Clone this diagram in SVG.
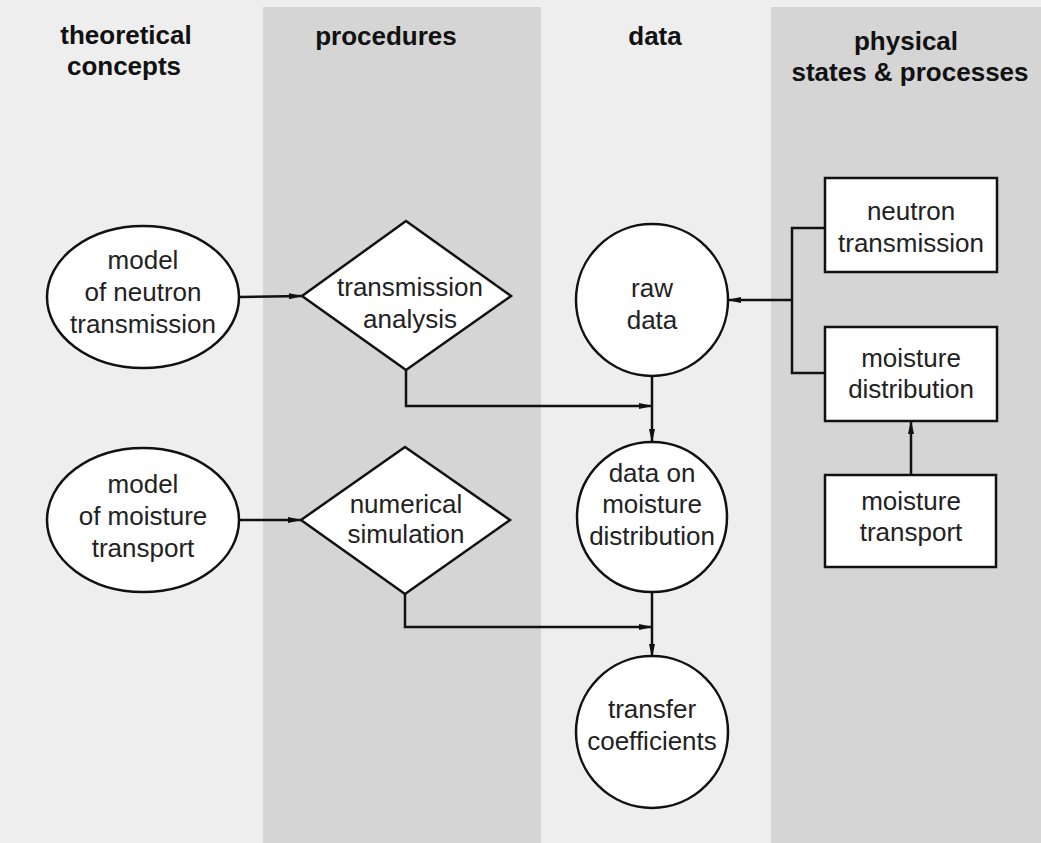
<svg xmlns="http://www.w3.org/2000/svg" width="1041" height="843" viewBox="0 0 1041 843">
<style>
.hdr{font-family:"Liberation Sans",Arial,sans-serif;font-weight:bold;font-size:26px;fill:#111;text-anchor:middle}
.lbl{font-family:"Liberation Sans",Arial,sans-serif;font-size:26px;fill:#222;text-anchor:middle}
.shape{fill:#fff;stroke:#111;stroke-width:2.5}
.conn{fill:none;stroke:#111;stroke-width:2.5}
</style>
<defs>
<marker id="arr" markerWidth="14" markerHeight="8" refX="13" refY="4" orient="auto" markerUnits="userSpaceOnUse">
<path d="M0,1 L14,4 L0,7 z" fill="#111"/>
</marker>
</defs>
<rect x="0" y="0" width="1041" height="843" fill="#eeeeee"/>
<rect x="263" y="7" width="278" height="836" fill="#d5d5d5"/>
<rect x="771" y="7" width="270" height="836" fill="#d5d5d5"/>
<g id="headers">
<text class="hdr" x="126" y="44">theoretical</text>
<text class="hdr" x="124" y="75">concepts</text>
<text class="hdr" x="386" y="45">procedures</text>
<text class="hdr" x="655" y="45">data</text>
<text class="hdr" x="906" y="50">physical</text>
<text class="hdr" x="910" y="81">states &amp; processes</text>
</g>
<g id="connectors">
<line class="conn" x1="240" y1="297" x2="302" y2="296" marker-end="url(#arr)"/>
<line class="conn" x1="239" y1="520" x2="301" y2="520" marker-end="url(#arr)"/>
<polyline class="conn" points="406,370 406,406 652,406" marker-end="url(#arr)"/>
<polyline class="conn" points="405,594 405,627 652,627" marker-end="url(#arr)"/>
<line class="conn" x1="652" y1="376" x2="652" y2="442" marker-end="url(#arr)"/>
<line class="conn" x1="652" y1="592" x2="652" y2="657" marker-end="url(#arr)"/>
<polyline class="conn" points="825,228 792,228 792,373 825,373"/>
<line class="conn" x1="792" y1="300" x2="728" y2="300" marker-end="url(#arr)"/>
<line class="conn" x1="911" y1="475" x2="911" y2="421" marker-end="url(#arr)"/>
</g>
<g id="model-neutron">
<ellipse class="shape" cx="143" cy="297" rx="96" ry="71"/>
<text class="lbl" x="143" y="269">model</text>
<text class="lbl" x="143" y="301">of neutron</text>
<text class="lbl" x="143" y="333">transmission</text>
</g>
<g id="model-moisture">
<ellipse class="shape" cx="143" cy="520" rx="96" ry="72"/>
<text class="lbl" x="143" y="493">model</text>
<text class="lbl" x="143" y="525">of moisture</text>
<text class="lbl" x="143" y="557">transport</text>
</g>
<g id="transmission-analysis">
<polygon class="shape" points="406,221 511,296 406,370 302,296"/>
<text class="lbl" x="410" y="296">transmission</text>
<text class="lbl" x="410" y="328">analysis</text>
</g>
<g id="numerical-simulation">
<polygon class="shape" points="405,447 510,520 405,594 301,520"/>
<text class="lbl" x="406" y="513">numerical</text>
<text class="lbl" x="406" y="543">simulation</text>
</g>
<g id="raw-data">
<circle class="shape" cx="652" cy="300" r="76"/>
<text class="lbl" x="652" y="297">raw</text>
<text class="lbl" x="652" y="329">data</text>
</g>
<g id="data-moisture">
<circle class="shape" cx="652" cy="517" r="75"/>
<text class="lbl" x="652" y="482">data on</text>
<text class="lbl" x="652" y="513">moisture</text>
<text class="lbl" x="652" y="545">distribution</text>
</g>
<g id="transfer-coefficients">
<circle class="shape" cx="652" cy="732" r="76"/>
<text class="lbl" x="652" y="718">transfer</text>
<text class="lbl" x="652" y="750">coefficients</text>
</g>
<g id="neutron-transmission">
<rect class="shape" x="825" y="178" width="172" height="94"/>
<text class="lbl" x="911" y="220">neutron</text>
<text class="lbl" x="911" y="252">transmission</text>
</g>
<g id="moisture-distribution">
<rect class="shape" x="825" y="327" width="172" height="94"/>
<text class="lbl" x="911" y="367">moisture</text>
<text class="lbl" x="911" y="398">distribution</text>
</g>
<g id="moisture-transport">
<rect class="shape" x="825" y="475" width="171" height="92"/>
<text class="lbl" x="911" y="510">moisture</text>
<text class="lbl" x="911" y="541">transport</text>
</g>
</svg>
